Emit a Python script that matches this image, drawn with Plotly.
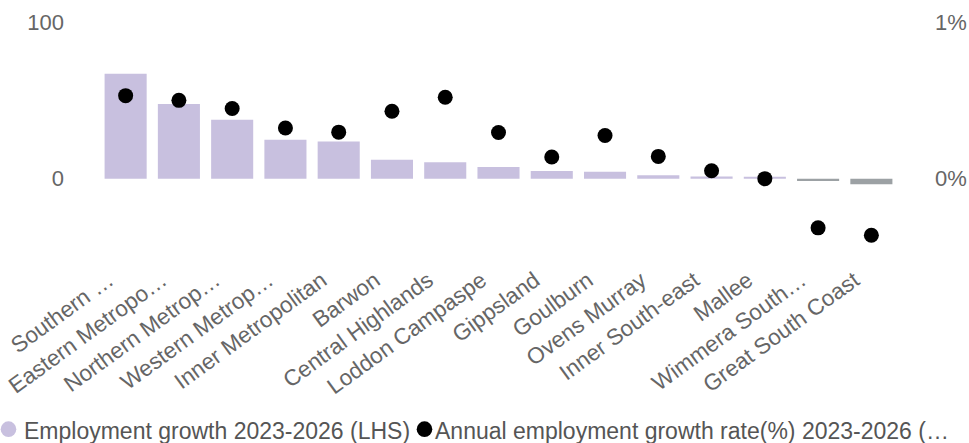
import plotly.graph_objects as go

# Victorian regions, ordered by employment growth
regions = [
    "Southern Metropolitan", "Eastern Metropolitan", "Northern Metropolitan",
    "Western Metropolitan", "Inner Metropolitan", "Barwon", "Central Highlands",
    "Loddon Campaspe", "Gippsland", "Goulburn", "Ovens Murray",
    "Inner South-east", "Mallee", "Wimmera Southern Mallee", "Great South Coast",
]
region_labels = [
    "Southern …", "Eastern Metropo…", "Northern Metrop…", "Western Metrop…",
    "Inner Metropolitan", "Barwon", "Central Highlands", "Loddon Campaspe",
    "Gippsland", "Goulburn", "Ovens Murray", "Inner South-east", "Mallee",
    "Wimmera South…", "Great South Coast",
]

# Employment growth 2023-2026 (LHS)
employment_growth = [66.9, 47.6, 37.6, 24.8, 23.8, 12.1, 10.4, 7.4, 4.9, 4.4,
                     2.2, 1.4, 1.3, -1.5, -3.6]
# Annual employment growth rate (%) 2023-2026 (RHS)
annual_growth_rate = [0.53, 0.50, 0.448, 0.323, 0.297, 0.43, 0.52, 0.295,
                      0.138, 0.276, 0.142, 0.051, 0.0, -0.314, -0.361]

left_ticks = [0, 100]
right_ticks = [0, 0.01]
right_tick_labels = ["0%", "1%"]

series_names = ["Employment growth 2023-2026 (LHS)",
                "Annual employment growth rate(%) 2023-2026 (…"]

BAR_COLOUR = "#C8C0DF"
NEG_COLOUR = "#9CA1A4"
DOT_COLOUR = "#000000"
TEXT_COLOUR = "#666666"
LEGEND_COLOUR = "#555555"
FONT = "Liberation Sans, Arial, sans-serif"

W, H = 969, 443
M_L, M_R, M_T, M_B = 99, 71, 22, 185.5
plot_w = W - M_L - M_R
plot_h = H - M_T - M_B

bar_colours = [BAR_COLOUR if v >= 0 else NEG_COLOUR for v in employment_growth]

fig = go.Figure()

fig.add_trace(go.Bar(
    x=regions, y=employment_growth,
    marker=dict(color=bar_colours, line=dict(width=0)),
    name=series_names[0],
))

fig.add_trace(go.Scatter(
    x=regions, y=[v / 100 for v in annual_growth_rate],
    mode="markers", yaxis="y2",
    marker=dict(color=DOT_COLOUR, size=15),
    name=series_names[1],
))


def px_x(px):
    return (px - M_L) / plot_w


def px_y(py):
    return (H - M_B - py) / plot_h


# legend row along the bottom: a round key followed by the series name
KEY_R = 7.8
legend_items = [(series_names[0], BAR_COLOUR, 8.5, 22),
                (series_names[1], DOT_COLOUR, 424.5, 433)]
annotations = []
shapes = []
for name, colour, key_x, text_x in legend_items:
    shapes.append(dict(
        type="circle", xref="paper", yref="paper",
        x0=px_x(key_x - KEY_R), x1=px_x(key_x + KEY_R),
        y0=px_y(430 + KEY_R), y1=px_y(430 - KEY_R),
        fillcolor=colour, line=dict(width=0),
    ))
    annotations.append(dict(
        xref="paper", yref="paper", x=px_x(text_x), y=px_y(432),
        xanchor="left", yanchor="middle", showarrow=False,
        text=name, font=dict(family=FONT, size=23, color=LEGEND_COLOUR),
    ))

fig.update_layout(
    width=W, height=H,
    margin=dict(l=M_L, r=M_R, t=M_T, b=M_B),
    paper_bgcolor="white", plot_bgcolor="white",
    font=dict(family=FONT, color=TEXT_COLOUR, size=22),
    bargap=0.21,
    showlegend=False,
    annotations=annotations,
    shapes=shapes,
    xaxis=dict(
        type="category", tickmode="array", tickvals=regions, ticktext=region_labels,
        range=[-0.5, len(regions) - 0.5],
        tickangle=-36, showgrid=False, showline=False, zeroline=False,
        tickfont=dict(size=22.5, color=TEXT_COLOUR), automargin=False,
        ticklabelshift=-17, ticklabelstandoff=5,
    ),
    yaxis=dict(
        range=[-50, 100], tickvals=left_ticks, showgrid=False, zeroline=False,
        showline=False, tickfont=dict(size=22, color=TEXT_COLOUR),
        ticklabelstandoff=34, automargin=False,
    ),
    yaxis2=dict(
        range=[-0.005, 0.01], overlaying="y", side="right",
        tickvals=right_ticks, ticktext=right_tick_labels,
        showgrid=False, zeroline=False, showline=False,
        tickfont=dict(size=22, color=TEXT_COLOUR),
        ticklabelstandoff=36, automargin=False,
    ),
)

fig.write_html("out.html")
